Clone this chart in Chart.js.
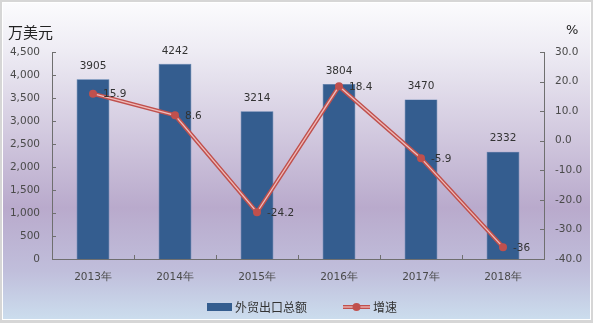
<!DOCTYPE html>
<html><head><meta charset="utf-8">
<script src="https://cdn.jsdelivr.net/npm/chart.js@4"></script>
<style>html,body{margin:0;padding:0;background:#fff}#wrap{width:593px;height:323px}</style>
</head><body><div id="wrap"><canvas id="c" width="593" height="323"></canvas></div>
<script>
const categories = ['2013年','2014年','2015年','2016年','2017年','2018年'];
const exportTotals = [3905, 4242, 3214, 3804, 3470, 2332];
const growthRates = [15.9, 8.6, -24.2, 18.4, -5.9, -36];
const leftTicks = [0,500,1000,1500,2000,2500,3000,3500,4000,4500];
const rightTicks = [-40,-30,-20,-10,0,10,20,30];
const barLabel = '外贸出口总额';
const lineLabel = '增速';
const leftUnit = '万美元';
const rightUnit = '%';

const FONT = '"DejaVu Sans", sans-serif';
const CJK = '"Noto Sans CJK SC", sans-serif';
const RED = '#c0504d', PINK = '#efbcbb', BLUE = '#345d8f';

const bgPlugin = {
  id: 'bg',
  beforeDraw(chart) {
    const ctx = chart.ctx, W = chart.width, H = chart.height;
    ctx.save();
    ctx.fillStyle = '#d6d6d6';
    ctx.fillRect(0, 0, W, H);
    ctx.fillStyle = '#ffffff';
    ctx.fillRect(2, 2, W - 4, H - 5);
    const g = ctx.createLinearGradient(0, 3, 0, 318);
    g.addColorStop(0, '#fbfbfd');
    g.addColorStop(0.15, '#eeecf4');
    g.addColorStop(0.65, '#b9aacc');
    g.addColorStop(0.85, '#c0bedb');
    g.addColorStop(1, '#cbdced');
    ctx.fillStyle = g;
    ctx.fillRect(3, 3, W - 6, H - 7);
    ctx.restore();
  }
};

const decoPlugin = {
  id: 'deco',
  afterDraw(chart) {
    const ctx = chart.ctx, a = chart.chartArea;
    const yL = chart.scales.y, yR = chart.scales.y1, x = chart.scales.x;
    ctx.save();
    // inner tick marks
    ctx.strokeStyle = '#6f6f6f'; ctx.lineWidth = 1;
    ctx.beginPath();
    leftTicks.forEach(v => { const p = Math.round(yL.getPixelForValue(v)) + 0.5; ctx.moveTo(a.left, p); ctx.lineTo(a.left + 4, p); });
    rightTicks.forEach(v => { const p = Math.round(yR.getPixelForValue(v)) + 0.5; ctx.moveTo(a.right, p); ctx.lineTo(a.right - 4, p); });
    for (let i = 0; i <= categories.length; i++) {
      const p = Math.round(a.left + (a.right - a.left) * i / categories.length) + 0.5;
      ctx.moveTo(p, a.bottom); ctx.lineTo(p, a.bottom - 4);
    }
    ctx.stroke();
    // units
    ctx.fillStyle = '#222';
    ctx.font = '15px ' + CJK;
    ctx.textBaseline = 'middle';
    ctx.textAlign = 'left';
    ctx.fillText(leftUnit, 8, 32);
    ctx.font = '13px ' + FONT;
    ctx.fillText(rightUnit, 566, 31);
    // data labels
    ctx.fillStyle = '#333';
    ctx.font = '10.5px ' + FONT;
    const mb = chart.getDatasetMeta(0);
    mb.data.forEach((el, i) => {
      ctx.textAlign = 'center';
      ctx.fillText(String(exportTotals[i]), el.x, el.y - 13);
    });
    const ml = chart.getDatasetMeta(2);
    ml.data.forEach((el, i) => {
      ctx.textAlign = 'left';
      ctx.fillText(String(growthRates[i]), el.x + 10, el.y + 1);
    });
    // legend
    const ly = 307;
    ctx.fillStyle = BLUE;
    ctx.fillRect(207, ly - 4, 25, 8);
    ctx.fillStyle = '#333';
    ctx.font = '12px ' + CJK;
    ctx.textAlign = 'left';
    ctx.fillText(barLabel, 235, ly);
    ctx.strokeStyle = RED; ctx.lineWidth = 4;
    ctx.beginPath(); ctx.moveTo(343, ly); ctx.lineTo(370, ly); ctx.stroke();
    ctx.strokeStyle = PINK; ctx.lineWidth = 1.3;
    ctx.beginPath(); ctx.moveTo(343, ly); ctx.lineTo(370, ly); ctx.stroke();
    ctx.fillStyle = RED;
    ctx.beginPath(); ctx.arc(356.5, ly, 4, 0, Math.PI * 2); ctx.fill();
    ctx.fillStyle = '#333';
    ctx.fillText(lineLabel, 373, ly);
    ctx.restore();
  }
};

new Chart(document.getElementById('c'), {
  data: {
    labels: categories,
    datasets: [
      { type: 'bar', label: barLabel, data: exportTotals, backgroundColor: BLUE, borderColor: '#4a74a6', borderWidth: 0.6,
        yAxisID: 'y', barPercentage: 0.4, categoryPercentage: 1, order: 3 },
      { type: 'line', label: lineLabel, data: growthRates, borderColor: RED, borderWidth: 4.2, pointRadius: 0,
        yAxisID: 'y1', tension: 0, order: 2 },
      { type: 'line', label: lineLabel, data: growthRates, borderColor: PINK, borderWidth: 1.3, pointRadius: 4,
        pointBackgroundColor: RED, pointBorderColor: RED, pointBorderWidth: 0, yAxisID: 'y1', tension: 0, order: 1 }
    ]
  },
  options: {
    responsive: false,
    animation: false,
    devicePixelRatio: 1,
    layout: { padding: { left: 0, right: 0, top: 52, bottom: 34 } },
    plugins: { legend: { display: false }, tooltip: { enabled: false } },
    scales: {
      x: {
        grid: { display: false, drawTicks: false },
        border: { display: true, color: '#6f6f6f', width: 1 },
        ticks: { color: '#4a4a4a', font: { family: FONT, size: 10.5 }, padding: 12 },
        afterFit(s) { s.height = 30; }
      },
      y: {
        position: 'left', min: 0, max: 4500,
        grid: { display: false, drawTicks: false },
        border: { display: true, color: '#6f6f6f', width: 1 },
        ticks: { stepSize: 500, color: '#4a4a4a', font: { family: FONT, size: 10.5 }, padding: 12,
          callback: v => v.toLocaleString('en-US') },
        afterFit(s) { s.width = 52; }
      },
      y1: {
        position: 'right', min: -40, max: 30,
        grid: { display: false, drawTicks: false },
        border: { display: true, color: '#6f6f6f', width: 1 },
        ticks: { stepSize: 10, color: '#4a4a4a', font: { family: FONT, size: 10.5 }, padding: 11,
          callback: v => Number(v).toFixed(1) },
        afterFit(s) { s.width = 49; }
      }
    }
  },
  plugins: [bgPlugin, decoPlugin]
});
</script></body></html>
